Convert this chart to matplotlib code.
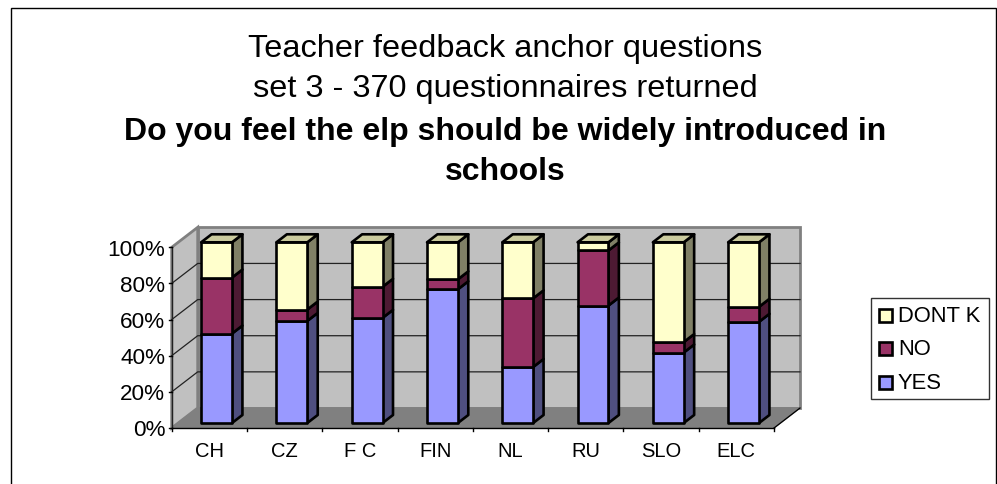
import matplotlib
matplotlib.use("Agg")
import matplotlib.pyplot as plt
from matplotlib.patches import Polygon, Rectangle

plt.rcParams['font.family'] = ['Liberation Sans', 'DejaVu Sans']

categories = ["CH", "CZ", "F C", "FIN", "NL", "RU", "SLO", "ELC"]
yes_vals = [49.5, 56.5, 58.2, 74.0, 31.0, 65.0, 39.0, 56.0]
no_vals = [31.0, 6.3, 17.2, 5.5, 38.0, 30.5, 5.8, 8.3]
dontk_vals = [19.5, 37.2, 24.6, 20.5, 31.0, 4.5, 55.2, 35.7]
y_ticks = [0, 20, 40, 60, 80, 100]

W, H = 997, 485
fig = plt.figure(figsize=(W / 100, H / 100), dpi=100)

# axes sits on the front plane of the fake 3d box
x0, x1 = 171.7, 774.0
y_top, y_bot = 248.3, 429.0
ax = fig.add_axes([x0 / W, 1 - y_bot / H, (x1 - x0) / W, (y_bot - y_top) / H])
ax.set_xlim(0, 8)
ax.set_ylim(0, 100)
ax.axis("off")

# full depth of the box, in data units
DX = 26 / ((x1 - x0) / 8)
DY = 20 / ((y_bot - y_top) / 100)


def proj(x, y, d):
    return (x + d * DX, y + d * DY)


def poly(pts, **kw):
    ax.add_patch(Polygon(pts, closed=True, clip_on=False, **kw))


def bar3d(i, bottom, top, front, side, cap):
    left = i + 0.305
    right = left + 0.41
    d0, d1 = 0.25, 0.65
    poly([proj(right, bottom, d0), proj(right, bottom, d1), proj(right, top, d1), proj(right, top, d0)],
         facecolor=side, edgecolor="black", linewidth=1.9, joinstyle="round", zorder=5)
    poly([proj(left, bottom, d0), proj(right, bottom, d0), proj(right, top, d0), proj(left, top, d0)],
         facecolor=front, edgecolor="black", linewidth=1.9, joinstyle="round", zorder=6)
    if cap:
        poly([proj(left, top, d0), proj(right, top, d0), proj(right, top, d1), proj(left, top, d1)],
             facecolor="#cccc9f", edgecolor="black", linewidth=1.9, joinstyle="round", zorder=6)


# walls and floor
wall_grey = "#c0c0c0"
edge_grey = "#808080"
poly([proj(0, 0, 1), proj(8, 0, 1), proj(8, 100, 1), proj(0, 100, 1)], facecolor=wall_grey, edgecolor=edge_grey, linewidth=2, zorder=1)
poly([proj(0, 0, 0), proj(0, 0, 1), proj(0, 100, 1), proj(0, 100, 0)], facecolor=wall_grey, edgecolor=edge_grey, linewidth=2, zorder=1)
poly([proj(0, 0, 0), proj(8, 0, 0), proj(8, 0, 1), proj(0, 0, 1)], facecolor=edge_grey, edgecolor=edge_grey, linewidth=1, zorder=2)

# gridlines along side wall and back wall
for t in y_ticks[1:-1]:
    ax.plot(*zip(proj(0, t, 0), proj(0, t, 1), proj(8, t, 1)), color="#222222", linewidth=0.9, clip_on=False, zorder=3)

# axis lines and ticks
ax.plot([0, 0], [0, 100], color="#222222", linewidth=1, clip_on=False, zorder=4)
ax.plot([0, 8], [0, 0], color="black", linewidth=1, clip_on=False, zorder=4)
ax.plot(*zip(proj(8, 0, 0), proj(8, 0, 1)), color="black", linewidth=0.9, clip_on=False, zorder=4)
for t in y_ticks:
    ax.plot([-0.04, 0], [t, t], color="black", linewidth=1, clip_on=False, zorder=4)
    ax.text(-0.085, t - 1.0, f"{t}%", ha="right", va="center", fontsize=16.2, color="black")
for i in range(9):
    ax.plot([i, i], [0, -1.8], color="black", linewidth=1, clip_on=False, zorder=4)
for i, c in enumerate(categories):
    ax.text(i + 0.5, -12.2, c, ha="center", va="center", fontsize=14.5, color="black")

# stacked bars
for i in range(len(categories)):
    a = yes_vals[i]
    b = a + no_vals[i]
    c = b + dontk_vals[i]
    bar3d(i, 0, a, "#9999ff", "#4f4f80", False)
    bar3d(i, a, b, "#993366", "#4d1a33", False)
    bar3d(i, b, c, "#ffffcc", "#808066", True)

# overlay axes in pixel units for frame, title and legend
ov = fig.add_axes([0, 0, 1, 1], zorder=-1)
ov.set_xlim(0, W)
ov.set_ylim(H, 0)
ov.axis("off")
ov.add_patch(Rectangle((11, 9), 985, 490, facecolor="white", edgecolor="black", linewidth=1))

title_lines = [("Teacher feedback anchor questions", "normal", 49),
               ("set 3 - 370 questionnaires returned", "normal", 89.5),
               ("Do you feel the elp should be widely introduced in", "bold", 132),
               ("schools", "bold", 172)]
for txt, wt, yy in title_lines:
    ov.text(505, yy, txt, ha="center", va="center", fontsize=23.4 if wt == "normal" else 23, fontweight=wt, color="black")

# legend
leg = fig.add_axes([0, 0, 1, 1], zorder=3)
leg.set_xlim(0, W)
leg.set_ylim(H, 0)
leg.axis("off")
leg.patch.set_alpha(0)
leg.add_patch(Rectangle((871, 298.5), 118, 101, facecolor="white", edgecolor="#333333", linewidth=1))
for name, col, yy in [("DONT K", "#ffffcc", 316), ("NO", "#993366", 349.5), ("YES", "#9999ff", 383)]:
    leg.add_patch(Rectangle((878.5, yy - 6.5), 13, 13, facecolor=col, edgecolor="black", linewidth=1.9))
    leg.text(898, yy + 0.5, name, ha="left", va="center", fontsize=15.8, color="black")

fig.savefig("out.png", dpi=100)
